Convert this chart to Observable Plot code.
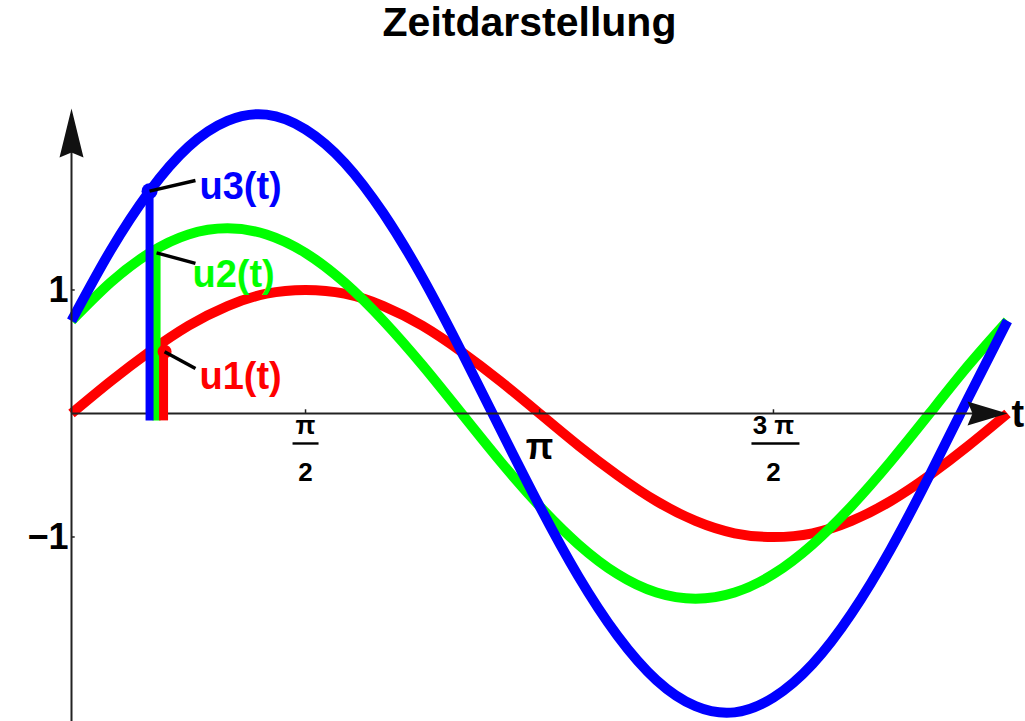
<!DOCTYPE html>
<html>
<head>
<meta charset="utf-8">
<script src="https://cdn.jsdelivr.net/npm/d3@7"></script>
<script src="https://cdn.jsdelivr.net/npm/@observablehq/plot@0.6"></script>
<style>
  body { margin: 0; background: #fff; font-family: "Liberation Sans", Arial, sans-serif; }
  #title { width: 1025px; height: 60px; box-sizing: border-box; padding-left: 34px;
           text-align: center; font-weight: bold; font-size: 41px; line-height: 44px; color: #000; }
  #chart svg { display: block; }
</style>
</head>
<body>
<div id="title">Zeitdarstellung</div>
<div id="chart"></div>
<script>
// sample times (multiples of pi/12)
const tValues = [0, 0.262, 0.524, 0.785, 1.047, 1.309, 1.571, 1.833, 2.094, 2.356, 2.618, 2.880,
                 3.142, 3.403, 3.665, 3.927, 4.189, 4.451, 4.712, 4.974, 5.236, 5.498, 5.760, 6.021, 6.283];
const u1 = [0, 0.26, 0.5, 0.71, 0.87, 0.97, 1, 0.97, 0.87, 0.71, 0.5, 0.26, 0,
            -0.26, -0.5, -0.71, -0.87, -0.97, -1, -0.97, -0.87, -0.71, -0.5, -0.26, 0];
const u2 = [0.75, 1.06, 1.3, 1.45, 1.5, 1.45, 1.3, 1.06, 0.75, 0.39, 0, -0.39, -0.75,
            -1.06, -1.3, -1.45, -1.5, -1.45, -1.3, -1.06, -0.75, -0.39, 0, 0.39, 0.75];
const u3 = [0.75, 1.32, 1.8, 2.16, 2.37, 2.42, 2.3, 2.03, 1.62, 1.1, 0.5, -0.13, -0.75,
            -1.32, -1.8, -2.16, -2.37, -2.42, -2.3, -2.03, -1.62, -1.1, -0.5, 0.13, 0.75];

const seriesNames = ["u1(t)", "u2(t)", "u3(t)"];
const seriesColors = ["#ff0000", "#00ff00", "#0000ff"];

// instantaneous values at t = pi/6
const barT = 0.524;
const barValues = [0.5, 1.3, 1.8];

// axis tick labels
const yTicks = [1, -1];
const yTickLabels = ["1", "\u22121"];
const xFracTicks = [1.571, 4.712];
const xFracNumerators = ["\u03c0", "3 \u03c0"];
const xFracDenominator = "2";
const xPiTick = [3.142];
const xAllTicks = [1.571, 3.142, 4.712];

const TWO_PI = 6.283;
const Y_LO = -2.494, Y_HI = 2.858;

const rows = (vals) => tValues.map((t, i) => ({t, v: vals[i]}));

// annotation placement (data units)
const leaders = [
  {x1: 0.625, y1: 0.5, x2: 0.832, y2: 0.364},
  {x1: 0.571, y1: 1.3, x2: 0.832, y2: 1.215},
  {x1: 0.524, y1: 1.8, x2: 0.832, y2: 1.887}
];
const labelPos = [
  {x: 0.859, y: 0.30},
  {x: 0.812, y: 1.126},
  {x: 0.859, y: 1.838}
];
const barDx = [14, 7, 0];
const dotDx = [15, 7, 0];

// custom symbols
const arrowUp = {draw(ctx) { ctx.moveTo(0, 0); ctx.lineTo(12, 49); ctx.lineTo(0, 44); ctx.lineTo(-12, 49); ctx.closePath(); }};
const arrowRight = {draw(ctx) { ctx.moveTo(0, 0); ctx.lineTo(-40, -12); ctx.lineTo(-35, 0); ctx.lineTo(-40, 12); ctx.closePath(); }};
const fracBar = (w) => ({draw(ctx) { ctx.rect(-w / 2, -1.2, w, 2.4); }});

const font = "'Liberation Sans', Arial, sans-serif";
const marks = [];

// curves
[u1, u2, u3].forEach((vals, i) => {
  marks.push(Plot.line(rows(vals), {x: "t", y: "v", stroke: seriesColors[i], strokeWidth: 10,
    curve: "natural", strokeLinecap: "butt"}));
});

// axes
marks.push(Plot.ruleY([0], {x1: 0, x2: TWO_PI - 0.1, stroke: "#222", strokeWidth: 2}));
marks.push(Plot.ruleX([0], {y1: Y_LO, y2: 2.3, stroke: "#222", strokeWidth: 2}));
marks.push(Plot.ruleX(xAllTicks, {x: d => d, y1: 0, y2: 0.03, stroke: "#222", strokeWidth: 1.5}));
marks.push(Plot.ruleY(yTicks, {y: d => d, x1: 0, x2: 0.025, stroke: "#222", strokeWidth: 1.5}));

// bars at t = pi/6 (green first, then blue, then red)
[1, 2, 0].forEach(i => {
  marks.push(Plot.ruleX([barT], {x: d => d, y1: -0.06, y2: barValues[i], stroke: seriesColors[i],
    strokeWidth: i === 0 ? 9 : 8, dx: barDx[i], strokeLinecap: "butt"}));
});

// dots at bar tops
marks.push(Plot.dot([barT], {x: d => d, y: barValues[2], r: 8, fill: seriesColors[2], stroke: "none", dx: dotDx[2]}));
marks.push(Plot.dot([barT], {x: d => d, y: barValues[0], r: 7, fill: seriesColors[0], stroke: "none", dx: dotDx[0]}));

// leader lines
marks.push(Plot.link(leaders, {x1: "x1", y1: "y1", x2: "x2", y2: "y2", stroke: "#000", strokeWidth: 3.5}));

// series labels
marks.push(Plot.text(labelPos.map((p, i) => ({...p, name: seriesNames[i], color: seriesColors[i]})), {
  x: "x", y: "y", text: "name", fill: d => d.color, textAnchor: "start",
  fontSize: 38, fontWeight: "bold", fontFamily: font}));

// arrowheads
marks.push(Plot.dot([0], {x: 0, y: 2.47, symbol: arrowUp, fill: "#111", stroke: "none"}));
marks.push(Plot.dot([0], {x: TWO_PI, y: 0, symbol: arrowRight, fill: "#111", stroke: "none"}));

// axis letter
marks.push(Plot.text(["t"], {x: TWO_PI, y: 0, text: d => d, textAnchor: "start", dx: 4, dy: 1,
  fontSize: 38, fontWeight: "bold", fontFamily: font, fill: "#000"}));

// y tick labels
marks.push(Plot.text(yTicks, {x: 0, y: d => d, text: (d, i) => yTickLabels[i], textAnchor: "end", dx: -3,
  fontSize: 36, fontWeight: "bold", fontFamily: font, fill: "#000"}));

// x tick labels: pi
marks.push(Plot.text(xPiTick, {x: d => d, y: 0, text: () => "\u03c0", dy: 34,
  fontSize: 36, fontWeight: "bold", fontFamily: font, fill: "#000"}));
// fractions
marks.push(Plot.text(xFracTicks, {x: d => d, y: 0, text: (d, i) => xFracNumerators[i], dy: 12,
  fontSize: 26, fontWeight: "bold", fontFamily: font, fill: "#000"}));
marks.push(Plot.text(xFracTicks, {x: d => d, y: 0, text: () => xFracDenominator, dy: 59,
  fontSize: 26, fontWeight: "bold", fontFamily: font, fill: "#000"}));
marks.push(Plot.dot([xFracTicks[0]], {x: d => d, y: 0, dy: 30, symbol: fracBar(26), fill: "#000", stroke: "none"}));
marks.push(Plot.dot([xFracTicks[1]], {x: d => d, y: 0, dy: 30, symbol: fracBar(48), fill: "#000", stroke: "none", dx: 2}));

const chart = Plot.plot({
  width: 1025,
  height: 661,
  marginLeft: 71,
  marginRight: 18,
  marginTop: 0,
  marginBottom: 0,
  x: {domain: [0, TWO_PI], axis: null},
  y: {domain: [Y_LO, Y_HI], axis: null},
  style: {background: "white", overflow: "visible", fontFamily: font},
  marks
});
document.getElementById("chart").appendChild(chart);
</script>
</body>
</html>
